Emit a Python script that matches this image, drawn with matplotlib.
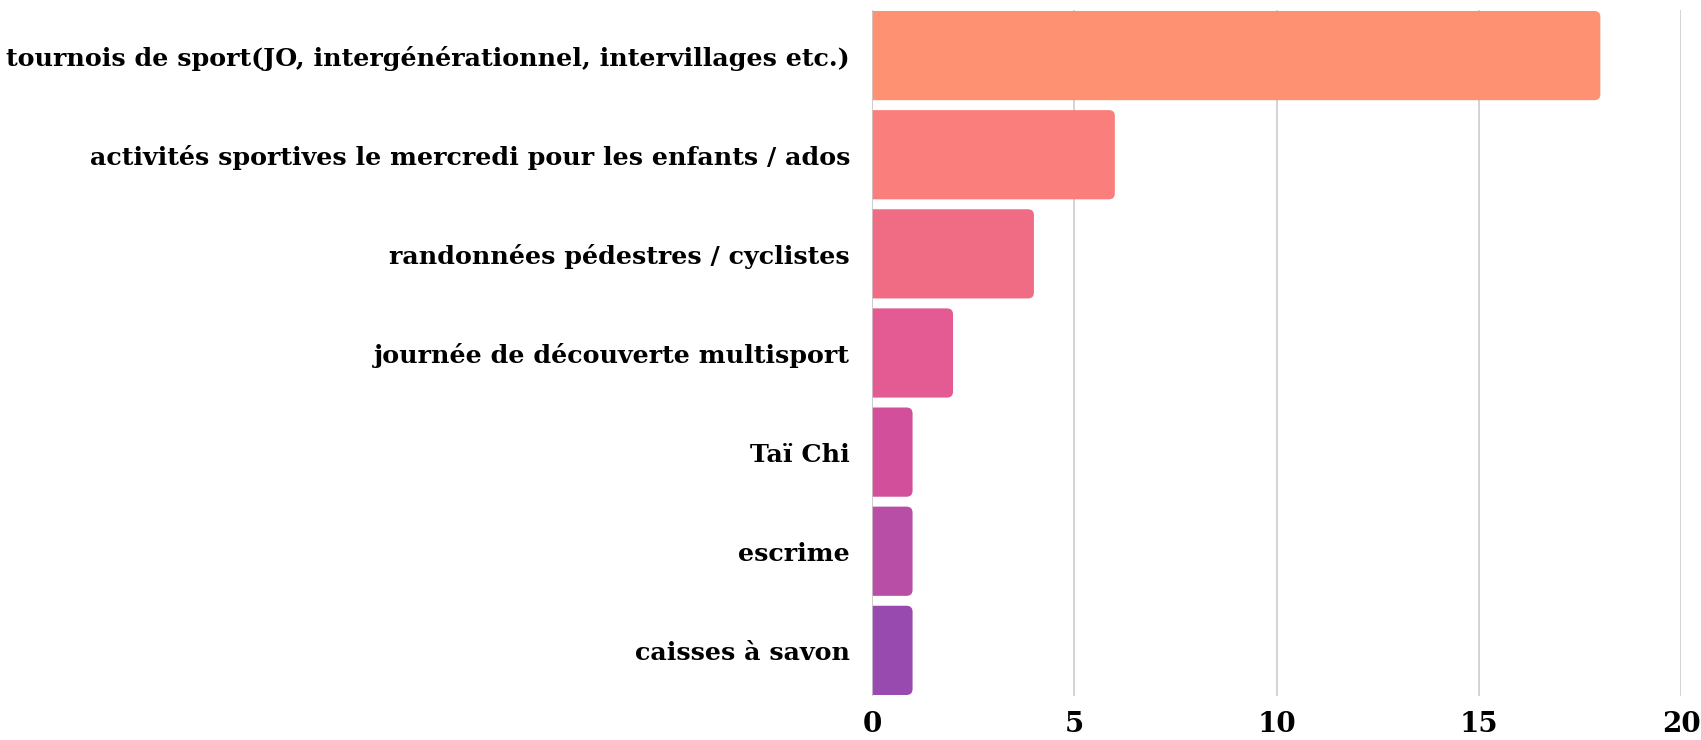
import numpy as np
import matplotlib.pyplot as plt
from matplotlib.patches import FancyBboxPatch

# data
categories = ['tournois de sport(JO, intergénérationnel, intervillages etc.)',
              'activités sportives le mercredi pour les enfants / ados',
              'randonnées pédestres / cyclistes',
              'journée de découverte multisport',
              'Taï Chi',
              'escrime',
              'caisses à savon']
values = [18, 6, 4, 2, 1, 1, 1]
colors = ['#FF9173', '#FA7E7C', '#F06B84', '#E45A92', '#D14F9B', '#B84EA5', '#984AAF']
xticks = [0, 5, 10, 15, 20]

plt.rcParams['font.family'] = ['DejaVu Serif']

fig = plt.figure(figsize=(17.01, 7.40), dpi=100)
rect = [0.5127, 0.0595, 0.4757, 0.927]
ax = fig.add_axes(rect)

y = np.arange(len(categories))
h = 0.9
ax.set_xlim(0, 20)
ax.set_ylim(len(categories) - 1 + h / 2 + 0.01, -h / 2 - 0.01)

# px per data unit, for the rounded corners
px_x = rect[2] * 1701 / 20
px_y = rect[3] * 740 / (len(categories) - 1 + h + 0.02)
r_px = 6
off = 0.5  # start left of 0 so the left corners get clipped

for yi, v, c in zip(y, values, colors):
    p = FancyBboxPatch((-off, yi - h / 2), v + off, h,
                       boxstyle='round,pad=0,rounding_size=%f' % (r_px / px_x),
                       mutation_aspect=px_x / px_y,
                       facecolor=c, edgecolor='none', zorder=2)
    ax.add_patch(p)

ax.axvline(0, color='#cccccc', linewidth=1.5, alpha=0.8, zorder=3)

ax.set_xticks(xticks)
ax.set_xticklabels([str(t) for t in xticks], fontsize=20, fontweight='bold')
ax.set_yticks(y)
ax.set_yticklabels(categories, fontsize=18.3, fontweight='bold')
ax.tick_params(axis='x', length=0, pad=11)
ax.tick_params(axis='y', length=0, pad=16)
ax.grid(axis='x', color='#cccccc', linewidth=1.2, zorder=0)
for s in ax.spines.values():
    s.set_visible(False)

fig.savefig('out.png', dpi=100)
